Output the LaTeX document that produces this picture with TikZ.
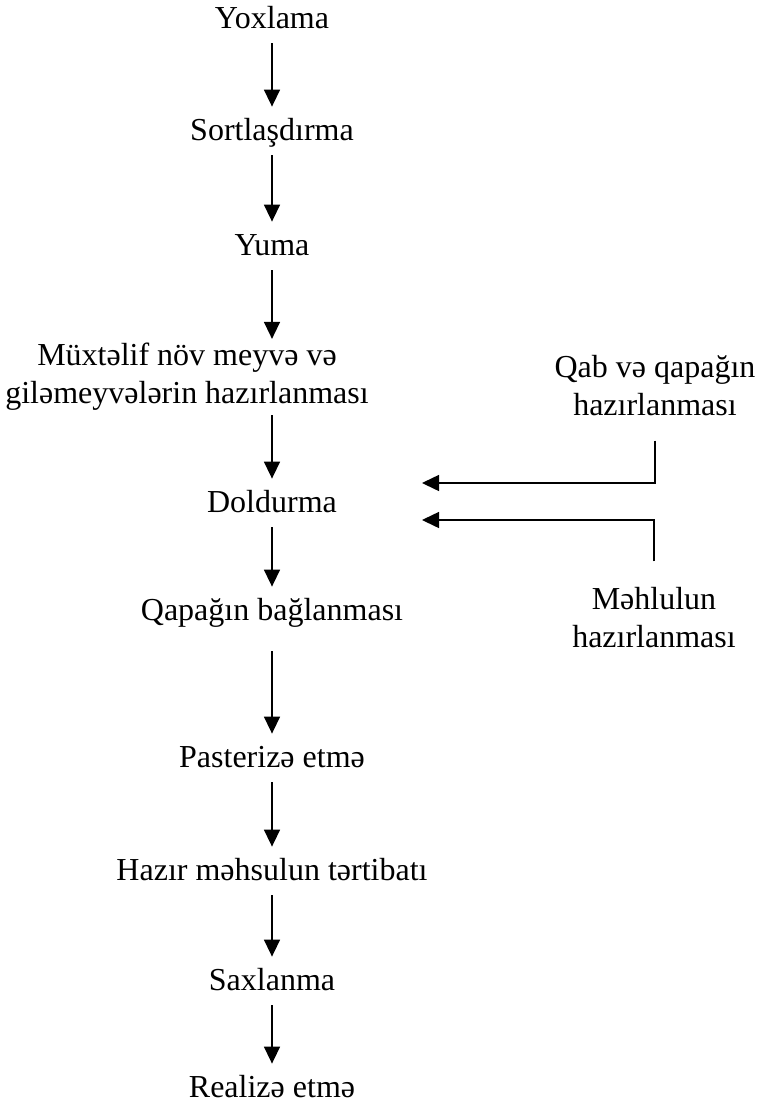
\documentclass[tikz,border=0pt]{standalone}
\usepackage{fontspec}
\setmainfont{Liberation Serif}
\usetikzlibrary{arrows.meta,positioning}

\begin{document}
\begin{tikzpicture}[x=0.5pt, y=-0.5pt,
  every node/.style={font=\fontsize{16}{19}\selectfont, inner xsep=2pt, inner ysep=2pt},
  stage/.style={anchor=base, text height=14.5pt, text depth=5.5pt},
  twoline/.style={align=center},
  flow/.style={line width=0.75pt, -{Triangle[length=8.5pt,width=8pt]}}]
  \useasboundingbox (0,0) rectangle (760,1104);
  % Main column
  \node[stage] (yox) at (272,28) {Yoxlama};
  \node[stage] (sort) at (272,140) {Sortlaşdırma};
  \node[stage] (yuma) at (272,255) {Yuma};
  \node[twoline] (hazir) at (187,377) {Müxtəlif növ meyvə və\\giləmeyvələrin hazırlanması};
  \node[stage] (dold) at (272,512) {Doldurma};
  \node[stage] (bagl) at (272,620) {Qapağın bağlanması};
  \node[stage] (past) at (272,767) {Pasterizə etmə};
  \node[stage] (tert) at (272,880) {Hazır məhsulun tərtibatı};
  \node[stage] (saxl) at (272,990) {Saxlanma};
  \node[stage] (real) at (272,1097) {Realizə etmə};
  % Side inputs
  \node[twoline] (qab) at (655,386) {Qab və qapağın\\hazırlanması};
  \node[twoline] (mehl) at (654,618) {Məhlulun\\hazırlanması};
  \coordinate (in1) at (422,483);
  \coordinate (in2) at (422,520);
  % Arrows down the main line
  \draw[flow] (yox) -- (sort);
  \draw[flow] (sort) -- (yuma);
  \draw[flow] (yuma.south) -- (yuma.south |- hazir.north);
  \draw[flow] (hazir.south -| dold.north) -- (dold.north);
  \draw[flow] (dold) -- (bagl);
  \draw[flow, shorten <=8pt] (bagl) -- (past);
  \draw[flow] (past) -- (tert);
  \draw[flow] (tert) -- (saxl);
  \draw[flow] (saxl) -- (real);
  % Inputs into Doldurma
  \draw[flow] ([yshift=-10pt]qab.south) |- (in1);
  \draw[flow] ([yshift=11pt]mehl.north) |- (in2);
\end{tikzpicture}
\end{document}
